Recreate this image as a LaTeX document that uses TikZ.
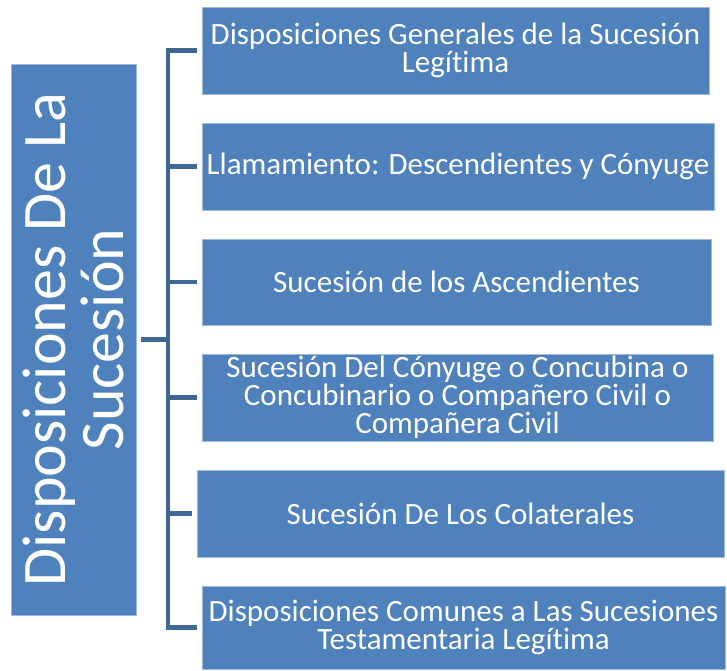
\documentclass[tikz,border=0pt]{standalone}
\usepackage{fontspec}
\setmainfont{Carlito}[Ligatures=NoCommon]
\definecolor{boxblue}{HTML}{4F81BD}
\definecolor{lineblue}{HTML}{3F6896}

\begin{document}
\begin{tikzpicture}[x=1pt, y=-1pt,
  item/.style={fill=boxblue, draw=boxblue!55!white, line width=0.8pt, text=white, inner sep=0pt,
    align=center, minimum height=87pt, font=\fontsize{31}{28}\selectfont},
  bracket/.style={draw=lineblue, line width=4.5pt}]

\useasboundingbox (0,0) rectangle (727,670);

\node[item, rotate=90, minimum width=551pt, minimum height=125pt, font=\fontsize{62}{58}\selectfont]
  (root) at (73.5,339.5) {Disposiciones De La\\Sucesión};

\node[item, minimum width=507pt] (gen) at (455.5,50.5) {Disposiciones Generales de la Sucesión\\Legítima};
\node[item, minimum width=512pt] (llam) at (458,166.5) {Llamamiento: Descendientes y Cónyuge};
\node[item, minimum width=509pt, minimum height=86pt] (asc) at (456.5,282) {Sucesión de los Ascendientes};
\node[item, minimum width=511pt] (cony) at (457.5,397.5) {Sucesión Del Cónyuge o Concubina o\\Concubinario o Compañero Civil o\\Compañera Civil};
\node[item, minimum width=527pt] (col) at (460.5,513.5) {Sucesión De Los Colaterales};
\node[item, minimum width=523pt, minimum height=83pt] (com) at (463.5,627.5) {Disposiciones Comunes a Las Sucesiones\\Testamentaria Legítima};

\coordinate (spine) at (168,0);
\draw[bracket, shorten <=5pt, shorten >=5pt] (gen.west) -- (spine |- gen.west) -- (spine |- com.west) -- (com.west);
\foreach \n in {llam,asc,cony,col}
  \draw[bracket, shorten >=5pt] (spine |- \n.west) -- (\n.west);
\draw[bracket, shorten <=5pt] (root.south) -- (spine |- root.south);
\end{tikzpicture}
\end{document}
